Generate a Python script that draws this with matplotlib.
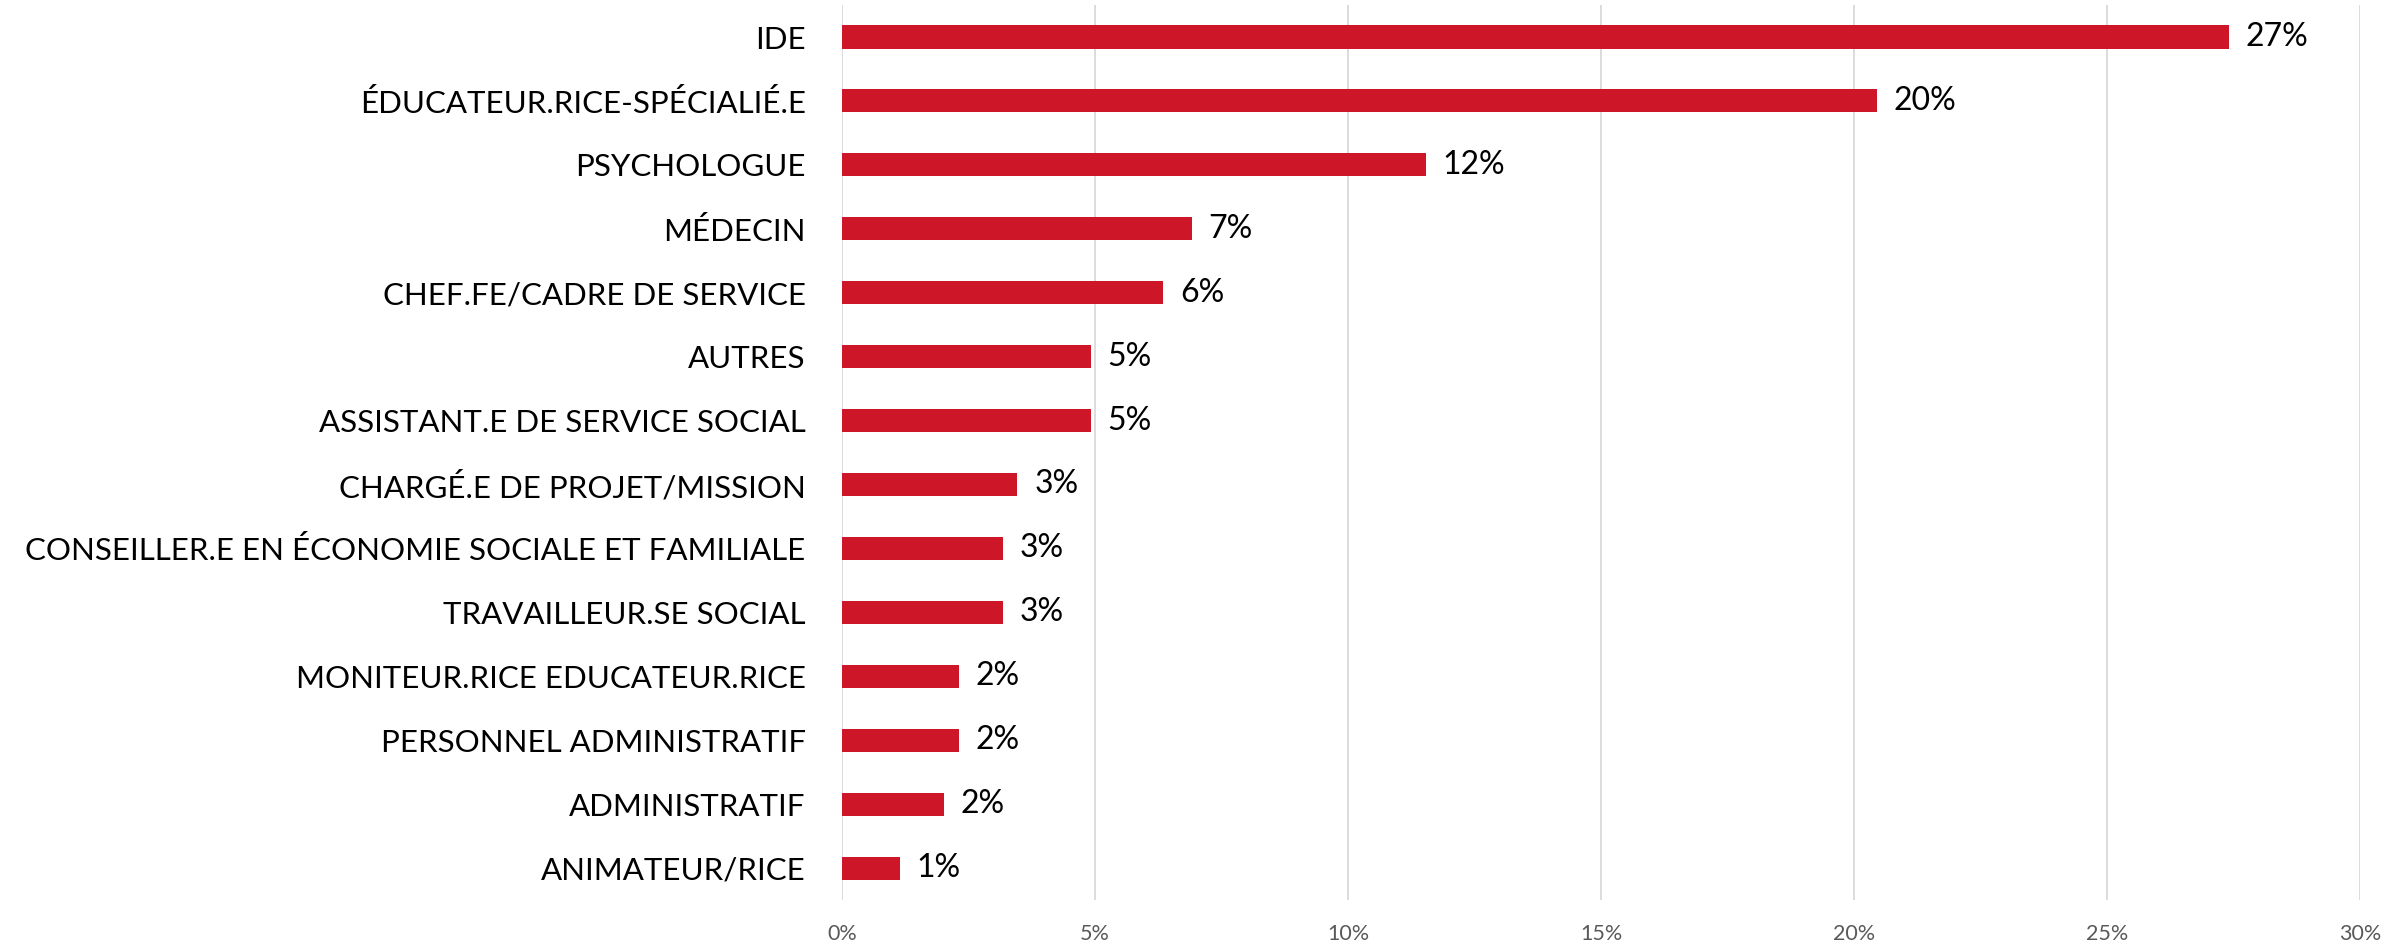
import matplotlib.pyplot as plt
from matplotlib.ticker import FuncFormatter

# categories top -> bottom, share of respondents (%)
categories = [
    "IDE",
    "ÉDUCATEUR.RICE-SPÉCIALIÉ.E",
    "PSYCHOLOGUE",
    "MÉDECIN",
    "CHEF.FE/CADRE DE SERVICE",
    "AUTRES",
    "ASSISTANT.E DE SERVICE SOCIAL",
    "CHARGÉ.E DE PROJET/MISSION",
    "CONSEILLER.E EN ÉCONOMIE SOCIALE ET FAMILIALE",
    "TRAVAILLEUR.SE SOCIAL",
    "MONITEUR.RICE EDUCATEUR.RICE",
    "PERSONNEL ADMINISTRATIF",
    "ADMINISTRATIF",
    "ANIMATEUR/RICE",
]
values = [27.4, 20.45, 11.54, 6.92, 6.35, 4.92, 4.92, 3.47, 3.18, 3.18, 2.31, 2.31, 2.02, 1.15]
xticks = [0, 5, 10, 15, 20, 25, 30]

plt.rcParams['font.family'] = ['Lato', 'DejaVu Sans']

bar_color = "#CE1629"

fig = plt.figure(figsize=(23.82, 9.51), dpi=100)
ax = fig.add_axes([0.3534, 0.0536, 0.9908 - 0.3534, 0.9947 - 0.0536])

ypos = list(range(len(categories)))
ax.barh(ypos, values, height=0.36, color=bar_color, zorder=3)

for y, v in zip(ypos, values):
    ax.text(v + 0.33, y, f"{round(v):d}%", va="center", ha="left",
            fontsize=23, color="black")

ax.set_xlim(0, 30)
ax.set_ylim(len(categories) - 0.5, -0.5)
ax.set_yticks(ypos)
ax.set_yticklabels(categories, fontsize=22.5, color="black")
ax.set_xticks(xticks)
ax.xaxis.set_major_formatter(FuncFormatter(lambda x, _: f"{int(x)}%"))
ax.tick_params(axis="x", labelsize=15.5, labelcolor="#595959", length=0, pad=17)
ax.tick_params(axis="y", length=0, pad=26)

ax.grid(axis="x", color="#D9D9D9", linewidth=1.3, zorder=0)
ax.set_axisbelow(True)
for s in ax.spines.values():
    s.set_visible(False)

fig.savefig("out.png", dpi=100)
